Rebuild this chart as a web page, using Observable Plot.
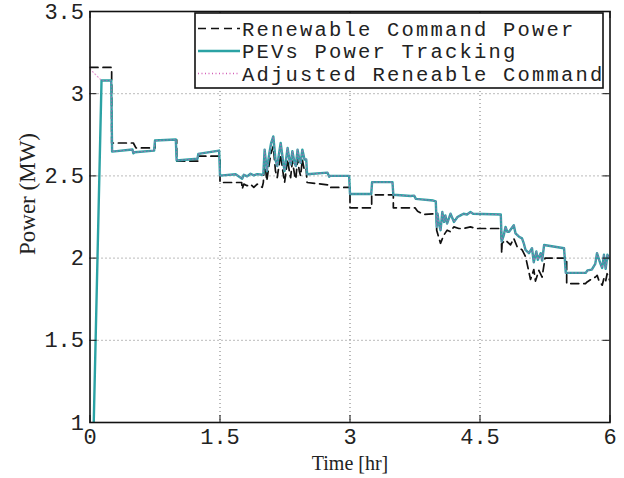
<!DOCTYPE html>
<html><head><meta charset="utf-8">
<script src="https://cdn.jsdelivr.net/npm/d3@7"></script>
<script src="https://cdn.jsdelivr.net/npm/@observablehq/plot@0.6"></script>
<style>body{margin:0;background:#fff}#chart{width:624px;height:478px}</style>
</head><body><div id="chart"></div>
<script>
const xTicks = [0, 1.5, 3, 4.5, 6];
const yTicks = [1, 1.5, 2, 2.5, 3, 3.5];
const xTickLabels = ["0", "1.5", "3", "4.5", "6"];
const yTickLabels = ["1", "1.5", "2", "2.5", "3", "3.5"];
const xLabel = "Time [hr]";
const yLabel = "Power (MW)";
const seriesNames = ["Renewable Command Power", "PEVs Power Tracking", "Adjusted Reneable Command"];

// Renewable Command Power (black dashed)
const commandT = [0, 0.25, 0.25, 0.5, 0.53, 0.75, 0.75, 1.0, 1.0, 1.25, 1.25, 1.5, 1.5, 1.75,
  1.756, 1.775, 1.813, 1.852, 1.89, 1.929, 1.987, 2.0,
  2.015, 2.04, 2.07, 2.09, 2.115, 2.14, 2.16, 2.2, 2.23, 2.245, 2.28, 2.3, 2.315, 2.335, 2.36, 2.375,
  2.395, 2.415, 2.43, 2.45, 2.475, 2.495, 2.505, 2.75, 2.76, 3.0, 3.0, 3.25, 3.25, 3.5, 3.5, 3.75,
  3.78, 3.85, 4.0, 4.0, 4.044, 4.083, 4.121, 4.16, 4.198, 4.256, 4.313, 4.39, 4.45, 4.745,
  4.75, 4.755, 4.794, 4.852, 4.89, 4.928, 4.986, 5.025, 5.083, 5.121, 5.14, 5.179, 5.217,
  5.25, 5.5, 5.5, 5.717, 5.736, 5.794, 5.833, 5.852, 5.871, 5.91, 5.929, 5.948, 5.967, 6.0];
const commandP = [3.16, 3.16, 2.70, 2.70, 2.67, 2.67, 2.72, 2.72, 2.59, 2.59, 2.62, 2.62, 2.46, 2.46,
  2.42, 2.45, 2.44, 2.45, 2.43, 2.45, 2.43, 2.46,
  2.60, 2.47, 2.58, 2.64, 2.68, 2.53, 2.49, 2.63, 2.51, 2.46, 2.60, 2.53, 2.49, 2.59, 2.51, 2.48,
  2.60, 2.53, 2.50, 2.60, 2.53, 2.54, 2.46, 2.445, 2.43, 2.43, 2.306, 2.306, 2.385, 2.385, 2.306, 2.306,
  2.285, 2.265, 2.27, 2.17, 2.09, 2.14, 2.17, 2.16, 2.19, 2.18, 2.18, 2.19, 2.18, 2.18,
  2.03, 2.09, 2.11, 2.08, 2.12, 2.07, 2.05, 2.01, 1.87, 1.93, 1.86, 1.925, 1.885,
  2.00, 2.00, 1.845, 1.845, 1.855, 1.875, 1.885, 1.895, 1.865, 1.835, 1.875, 1.855, 1.905, 1.86];

// PEVs Power Tracking (teal)
const trackT = [0, 0.133, 0.245, 0.255, 0.49, 0.5, 0.515, 0.74, 0.75, 0.99, 1.0, 1.24, 1.25, 1.49, 1.5,
  1.68, 1.756, 1.775, 1.813, 1.852, 1.89, 1.929, 1.987, 2.0,
  2.015, 2.04, 2.07, 2.09, 2.115, 2.14, 2.16, 2.2, 2.23, 2.245, 2.28, 2.3, 2.315, 2.335, 2.36, 2.375,
  2.395, 2.415, 2.43, 2.45, 2.475, 2.495, 2.505, 2.74, 2.76, 2.77, 2.99, 3.0, 3.245, 3.255, 3.49, 3.5,
  3.7, 3.74, 3.76, 3.96, 3.99, 4.0, 4.01, 4.025, 4.045, 4.065, 4.085, 4.1, 4.12, 4.16, 4.2, 4.24,
  4.275, 4.31, 4.35, 4.39, 4.42, 4.74, 4.75, 4.775, 4.795, 4.815, 4.835, 4.89, 4.91, 4.95, 4.985,
  5.005, 5.025, 5.065, 5.1, 5.12, 5.15, 5.167, 5.2, 5.217, 5.24, 5.47, 5.49, 5.72, 5.74, 5.79, 5.83,
  5.85, 5.89, 5.91, 5.93, 5.95, 5.97, 6.0];
const trackP = [0, 3.08, 3.08, 2.648, 2.661, 2.638, 2.644, 2.654, 2.715, 2.721, 2.594, 2.604, 2.634, 2.654, 2.502,
  2.51, 2.483, 2.507, 2.497, 2.513, 2.503, 2.511, 2.507, 2.51,
  2.66, 2.53, 2.64, 2.70, 2.74, 2.60, 2.56, 2.70, 2.58, 2.53, 2.67, 2.60, 2.57, 2.65, 2.58, 2.56,
  2.66, 2.60, 2.58, 2.66, 2.60, 2.60, 2.51, 2.52, 2.495, 2.50, 2.50, 2.39, 2.39, 2.462, 2.462, 2.385,
  2.378, 2.38, 2.36, 2.35, 2.345, 2.19, 2.27, 2.21, 2.17, 2.28, 2.22, 2.26, 2.21, 2.27, 2.22, 2.25,
  2.26, 2.27, 2.265, 2.28, 2.27, 2.265, 2.10, 2.14, 2.19, 2.16, 2.16, 2.20, 2.15, 2.13, 2.12,
  2.09, 2.05, 2.03, 2.06, 1.975, 2.04, 1.99, 2.03, 1.985, 2.08, 2.06, 1.91, 1.91, 1.925, 1.93, 1.965,
  2.03, 1.965, 1.94, 2.02, 1.935, 2.02, 1.99];

// Adjusted Reneable Command (pink dotted): own start, then overlaps the tracking curve
const adjustedStartT = [0, 0.133];
const adjustedStartP = [3.15, 3.08];
const adjustedT = adjustedStartT.concat(trackT.slice(2));
const adjustedP = adjustedStartP.concat(trackP.slice(2));

const toRows = (T, P, s) => T.map((t, i) => ({t, p: P[i], s}));
const command = toRows(commandT, commandP, seriesNames[0]);
const track = toRows(trackT, trackP, seriesNames[1]);
const adjusted = toRows(adjustedT, adjustedP, seriesNames[2]);

const colors = ["#111111", "#2ba2a4", "#d35fb7"];
const dashes = ["8,5", null, "1,2.5"];
const widths = [1.7, 2.4, 1.2];

const W = 624, H = 478, mL = 89.5, mR = 14.5, mT = 11, mB = 56;
const plotH = H - mT - mB, plotW = W - mL - mR, tickLen = 7;
const fmtX = d => xTickLabels[xTicks.indexOf(d)];
const fmtY = d => yTickLabels[yTicks.indexOf(d)];

const chart = Plot.plot({
  width: W, height: H,
  marginLeft: mL, marginRight: mR, marginTop: mT, marginBottom: mB,
  x: {domain: [xTicks[0], xTicks[xTicks.length - 1]]},
  y: {domain: [yTicks[0], yTicks[yTicks.length - 1]]},
  style: {background: "white"},
  marks: [
    Plot.gridX(xTicks.slice(1, -1), {stroke: "#777", strokeOpacity: 1, strokeDasharray: "1,3"}),
    Plot.gridY(yTicks.slice(1, -1), {stroke: "#777", strokeOpacity: 1, strokeDasharray: "1,3"}),
    Plot.line(command, {x: "t", y: "p", stroke: colors[0], strokeWidth: widths[0], strokeDasharray: dashes[0], clip: true}),
    Plot.line(track, {x: "t", y: "p", stroke: colors[1], strokeWidth: widths[1], clip: true}),
    Plot.line(adjusted, {x: "t", y: "p", stroke: colors[2], strokeWidth: widths[2], strokeDasharray: dashes[2], strokeOpacity: 0.6, clip: true}),
    Plot.tickX(xTicks, {x: d => d, insetTop: plotH - tickLen, stroke: "#111"}),
    Plot.tickX(xTicks, {x: d => d, insetBottom: plotH - tickLen, stroke: "#111"}),
    Plot.tickY(yTicks, {y: d => d, insetRight: plotW - tickLen, stroke: "#111"}),
    Plot.tickY(yTicks, {y: d => d, insetLeft: plotW - tickLen, stroke: "#111"}),
    Plot.frame({stroke: "#111", strokeWidth: 1.6}),
    Plot.axisX(xTicks, {tickSize: 0, tickPadding: 6, tickFormat: fmtX, fontFamily: "Liberation Mono", fontSize: 22, fill: "#222", label: null}),
    Plot.axisY(yTicks, {tickSize: 0, tickPadding: 6, tickFormat: fmtY, fontFamily: "Liberation Mono", fontSize: 22, fill: "#222", label: null}),
    Plot.text([xLabel], {frameAnchor: "bottom", dy: 47, fontFamily: "Liberation Serif", fontSize: 20, fill: "#222"}),
    Plot.text([yLabel], {frameAnchor: "left", rotate: -90, dx: -62, dy: 38, fontFamily: "Liberation Serif", fontSize: 23, fill: "#222"})
  ]
});
document.getElementById("chart").appendChild(chart);

// Legend box inside the axes (top right)
const svg = d3.select(chart);
const lg = svg.append("g").attr("transform", "translate(195,13)");
lg.append("rect").attr("width", 408).attr("height", 75).attr("fill", "white").attr("stroke", "#111").attr("stroke-width", 1.6);
seriesNames.forEach((name, i) => {
  const y = 15.5 + i * 22.5;
  lg.append("line").attr("x1", 3).attr("x2", 45).attr("y1", y).attr("y2", y)
    .attr("stroke", colors[i]).attr("stroke-width", i === 2 ? 1.6 : widths[i])
    .attr("stroke-dasharray", dashes[i]);
  lg.append("text").attr("x", 47).attr("y", y).attr("dy", "0.36em").attr("text-anchor", "start")
    .attr("font-family", "Liberation Mono").attr("font-size", 20.5).attr("letter-spacing", 2.2)
    .attr("fill", "#222").text(name);
});
</script>
</body></html>
